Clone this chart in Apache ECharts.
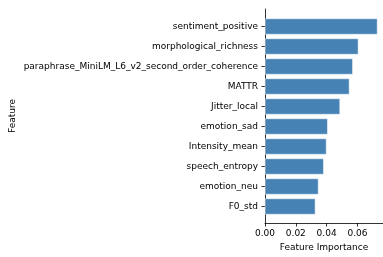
<!DOCTYPE html>
<html>
<head>
<meta charset="utf-8">
<script src="https://cdn.jsdelivr.net/npm/echarts@6/dist/echarts.min.js"></script>
<style>
  html, body { margin: 0; padding: 0; background: #fff; }
  #chart { width: 383px; height: 257px; }
</style>
</head>
<body>
<div id="chart"></div>
<script>
// data, top to bottom
const features = [
    'sentiment_positive',
    'morphological_richness',
    'paraphrase_MiniLM_L6_v2_second_order_coherence',
    'MATTR',
    'Jitter_local',
    'emotion_sad',
    'Intensity_mean',
    'speech_entropy',
    'emotion_neu',
    'F0_std',
];
const importance = [0.0730, 0.0606, 0.0570, 0.0548, 0.0487, 0.0407, 0.0399, 0.0381, 0.0347, 0.0327];
const xTicks = [0, 0.02, 0.04, 0.06];

const chart = echarts.init(document.getElementById('chart'), null, { renderer: 'canvas' });

const font = 'DejaVu Sans';
const xMax = 0.0766;

const option = {
    animation: false,
    backgroundColor: '#fff',
    grid: [
        // frame with spines and x ticks
        { left: 265, right: 0, top: 9, bottom: 34 },
        // bars, inset like matplotlib's margins
        { left: 265, right: 0, top: 16.5, height: 200 },
    ],
    xAxis: [
        {
            gridIndex: 0,
            type: 'value',
            min: 0,
            max: xMax,
            interval: 0.02,
            name: 'Feature Importance',
            nameLocation: 'middle',
            nameGap: 19,
            nameTextStyle: { fontFamily: font, fontSize: 9, color: '#000' },
            axisLine: { show: true, lineStyle: { color: '#000', width: 0.8 } },
            axisTick: { show: true, length: 3.5, lineStyle: { color: '#000', width: 0.8 } },
            axisLabel: {
                fontFamily: font, fontSize: 9, color: '#000', margin: 6,
                showMaxLabel: false,
                formatter: v => xTicks.some(t => Math.abs(t - v) < 1e-9) ? v.toFixed(2) : '',
            },
            splitLine: { show: false },
        },
        {
            gridIndex: 1,
            type: 'value',
            min: 0,
            max: xMax,
            show: false,
        },
    ],
    yAxis: [
        {
            gridIndex: 0,
            type: 'value',
            name: 'Feature',
            nameLocation: 'middle',
            nameRotate: 90,
            nameGap: 248,
            nameTextStyle: { fontFamily: font, fontSize: 9, color: '#000' },
            axisLine: { show: true, lineStyle: { color: '#000', width: 0.8 } },
            axisTick: { show: false },
            axisLabel: { show: false },
            splitLine: { show: false },
        },
        {
            gridIndex: 1,
            type: 'category',
            data: features,
            inverse: true,
            axisLine: { show: false },
            axisTick: { show: true, alignWithLabel: true, length: 3.5, lineStyle: { color: '#000', width: 0.8 } },
            axisLabel: { fontFamily: font, fontSize: 9, color: '#000', margin: 7 },
            splitLine: { show: false },
        },
    ],
    series: [
        {
            type: 'bar',
            xAxisIndex: 1,
            yAxisIndex: 1,
            data: importance,
            barWidth: 16,
            itemStyle: { color: '#4682b4', borderColor: '#fff', borderWidth: 0.5 },
        },
    ],
};

chart.setOption(option);
</script>
</body>
</html>
